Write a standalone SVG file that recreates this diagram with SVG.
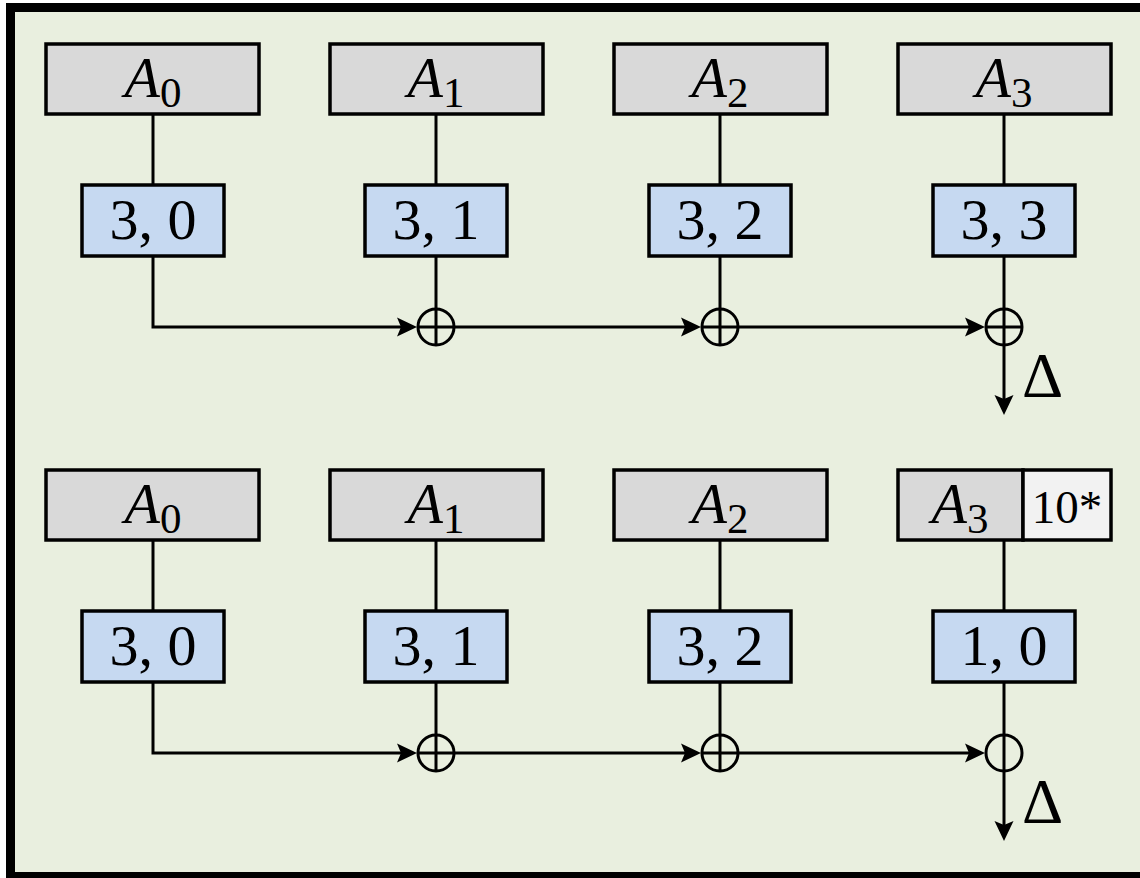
<svg xmlns="http://www.w3.org/2000/svg" width="1140" height="878" viewBox="0 0 1140 878">
  <style>
    .frame { fill: #e9efdf; stroke: #000; stroke-width: 9; }
    .key { fill: #d9d9d9; stroke: #000; stroke-width: 3.5; }
    .pad { fill: #f2f2f2; stroke: #000; stroke-width: 3.5; }
    .blk { fill: #c6d9f1; stroke: #000; stroke-width: 3.5; }
    .xor { fill: none; stroke: #000; stroke-width: 3; }
    .wire { fill: none; stroke: #000; stroke-width: 3; }
    .arrow { marker-end: url(#head); }
    text { font-family: "Liberation Serif", "DejaVu Serif", serif; fill: #000; }
    .lbl { font-size: 58px; text-anchor: middle; }
    .sub { font-size: 43px; }
    .it { font-style: italic; }
    .pad-txt { font-size: 47px; text-anchor: middle; }
    .delta { font-size: 64px; }
  </style>
  <defs>
    <marker id="head" markerUnits="userSpaceOnUse" markerWidth="24" markerHeight="24" viewBox="0 0 24 24" refX="12" refY="12" orient="auto">
      <path d="M3,2.5 L23,12 L3,21.5 L7,12 Z" fill="#000"/>
    </marker>
  </defs>

  <rect class="frame" x="10.5" y="7.5" width="1140" height="869"/>

  <!-- connectors -->
  <g id="connectors">
    <!-- upper row -->
    <path class="wire" d="M153,114 V185"/>
    <path class="wire" d="M436,114 V185"/>
    <path class="wire" d="M720,114 V185"/>
    <path class="wire" d="M1004,114 V185"/>
    <path class="wire" d="M436,256 V309"/>
    <path class="wire" d="M720,256 V309"/>
    <path class="wire" d="M1004,256 V309"/>
    <path class="wire arrow" d="M153,256 V327 H406"/>
    <path class="wire arrow" d="M454,327 H690"/>
    <path class="wire arrow" d="M738,327 H974"/>
    <path class="wire arrow" d="M1004,345 V404"/>
    <!-- lower row -->
    <path class="wire" d="M153,540 V611"/>
    <path class="wire" d="M436,540 V611"/>
    <path class="wire" d="M720,540 V611"/>
    <path class="wire" d="M1004,540 V611"/>
    <path class="wire" d="M436,682 V735"/>
    <path class="wire" d="M720,682 V735"/>
    <path class="wire" d="M1004,682 V735"/>
    <path class="wire arrow" d="M153,682 V753 H406"/>
    <path class="wire arrow" d="M454,753 H690"/>
    <path class="wire arrow" d="M738,753 H974"/>
    <path class="wire arrow" d="M1004,771 V830"/>
  </g>

  <!-- upper row: key words -->
  <g id="a0-top"><rect class="key" x="46" y="44" width="213" height="70"/><text class="lbl" x="153" y="97"><tspan class="it">A</tspan><tspan class="sub" dy="10">0</tspan></text></g>
  <g id="a1-top"><rect class="key" x="330" y="44" width="213" height="70"/><text class="lbl" x="436" y="97"><tspan class="it">A</tspan><tspan class="sub" dy="10">1</tspan></text></g>
  <g id="a2-top"><rect class="key" x="614" y="44" width="213" height="70"/><text class="lbl" x="720" y="97"><tspan class="it">A</tspan><tspan class="sub" dy="10">2</tspan></text></g>
  <g id="a3-top"><rect class="key" x="898" y="44" width="213" height="70"/><text class="lbl" x="1004" y="97"><tspan class="it">A</tspan><tspan class="sub" dy="10">3</tspan></text></g>

  <!-- upper row: blocks -->
  <g id="b30-top"><rect class="blk" x="82" y="185" width="142" height="71"/><text class="lbl" x="153" y="239">3, 0</text></g>
  <g id="b31-top"><rect class="blk" x="365" y="185" width="142" height="71"/><text class="lbl" x="436" y="239">3, 1</text></g>
  <g id="b32-top"><rect class="blk" x="649" y="185" width="142" height="71"/><text class="lbl" x="720" y="239">3, 2</text></g>
  <g id="b33-top"><rect class="blk" x="933" y="185" width="142" height="71"/><text class="lbl" x="1004" y="239">3, 3</text></g>

  <!-- upper row: xor gates -->
  <g id="x1-top"><circle class="xor" cx="436" cy="327" r="18"/><path class="xor" d="M418,327 H454 M436,309 V345"/></g>
  <g id="x2-top"><circle class="xor" cx="720" cy="327" r="18"/><path class="xor" d="M702,327 H738 M720,309 V345"/></g>
  <g id="x3-top"><circle class="xor" cx="1004" cy="327" r="18"/><path class="xor" d="M986,327 H1022 M1004,309 V345"/></g>
  <g id="delta-top"><text class="delta" x="1022" y="397">Δ</text></g>

  <!-- lower row: key words -->
  <g id="a0-bot"><rect class="key" x="46" y="470" width="213" height="70"/><text class="lbl" x="153" y="523"><tspan class="it">A</tspan><tspan class="sub" dy="10">0</tspan></text></g>
  <g id="a1-bot"><rect class="key" x="330" y="470" width="213" height="70"/><text class="lbl" x="436" y="523"><tspan class="it">A</tspan><tspan class="sub" dy="10">1</tspan></text></g>
  <g id="a2-bot"><rect class="key" x="614" y="470" width="213" height="70"/><text class="lbl" x="720" y="523"><tspan class="it">A</tspan><tspan class="sub" dy="10">2</tspan></text></g>
  <g id="a3-bot">
    <rect class="key" x="898" y="470" width="125" height="70"/>
    <text class="lbl" x="960" y="523"><tspan class="it">A</tspan><tspan class="sub" dy="10">3</tspan></text>
    <rect class="pad" x="1023" y="470" width="88" height="70"/>
    <text class="pad-txt" x="1067" y="523">10*</text>
  </g>

  <!-- lower row: blocks -->
  <g id="b30-bot"><rect class="blk" x="82" y="611" width="142" height="71"/><text class="lbl" x="153" y="665">3, 0</text></g>
  <g id="b31-bot"><rect class="blk" x="365" y="611" width="142" height="71"/><text class="lbl" x="436" y="665">3, 1</text></g>
  <g id="b32-bot"><rect class="blk" x="649" y="611" width="142" height="71"/><text class="lbl" x="720" y="665">3, 2</text></g>
  <g id="b10-bot"><rect class="blk" x="933" y="611" width="142" height="71"/><text class="lbl" x="1004" y="665">1, 0</text></g>

  <!-- lower row: xor gates -->
  <g id="x1-bot"><circle class="xor" cx="436" cy="753" r="18"/><path class="xor" d="M418,753 H454 M436,735 V771"/></g>
  <g id="x2-bot"><circle class="xor" cx="720" cy="753" r="18"/><path class="xor" d="M702,753 H738 M720,735 V771"/></g>
  <g id="x3-bot"><circle class="xor" cx="1004" cy="753" r="18"/><path class="xor" d="M1004,735 V771"/></g>
  <g id="delta-bot"><text class="delta" x="1022" y="823">Δ</text></g>
</svg>
